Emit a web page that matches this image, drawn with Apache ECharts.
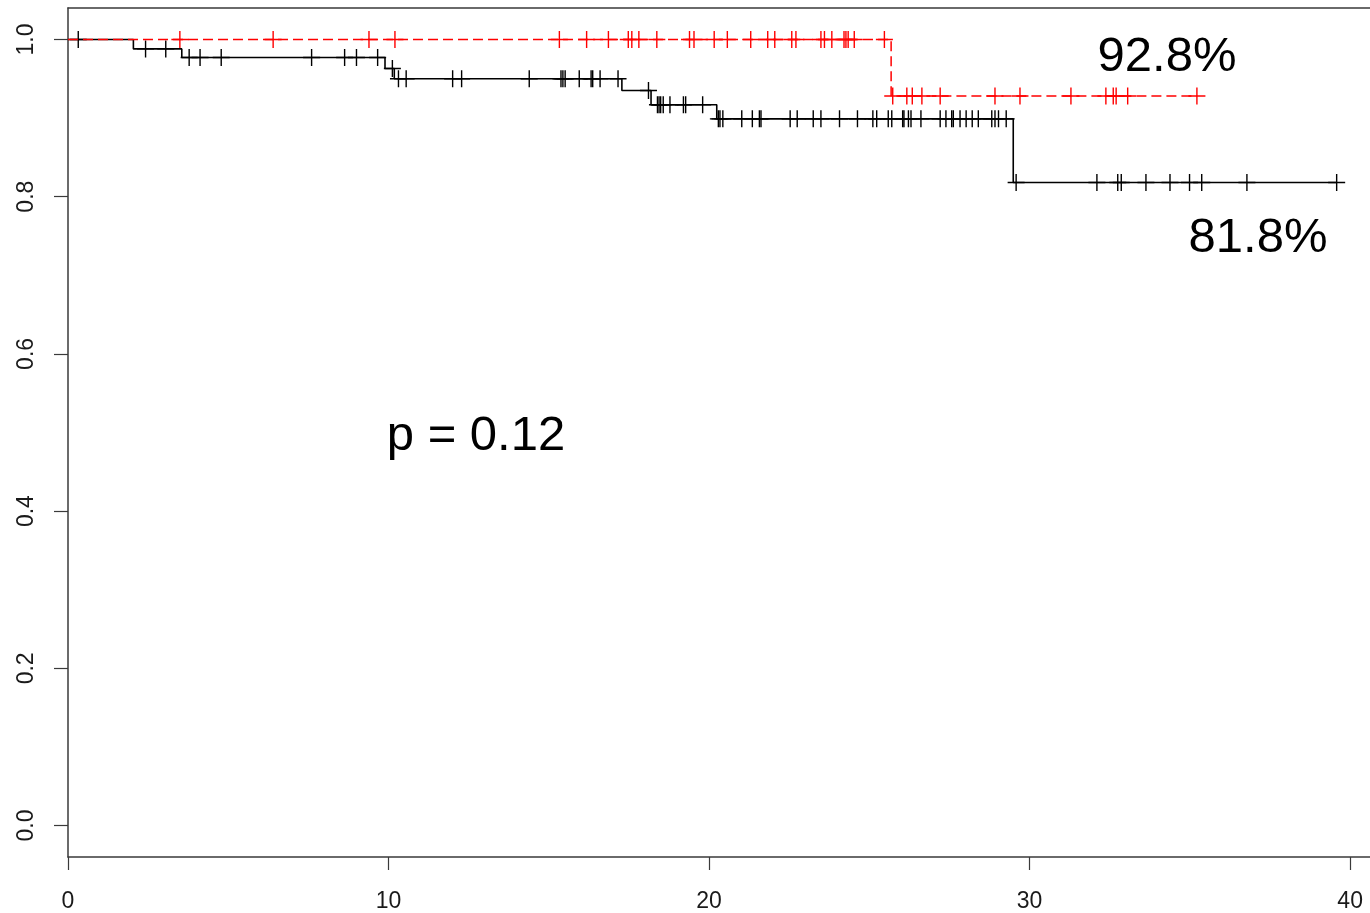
<!DOCTYPE html>
<html>
<head>
<meta charset="utf-8">
<script src="https://cdn.jsdelivr.net/npm/echarts@6/dist/echarts.min.js"></script>
<style>
  html, body { margin: 0; padding: 0; background: #ffffff; }
  #chart { width: 1370px; height: 913px; }
</style>
</head>
<body>
<div id="chart"></div>
<script>
// Kaplan–Meier survival curves: [time, survival] at each event time
const redSteps = [[0, 1], [25.68, 0.928], [35.22, 0.928]];
const blackSteps = [
  [0, 1], [2.04, 0.988], [3.55, 0.977], [9.89, 0.963], [10.18, 0.950],
  [17.28, 0.935], [18.19, 0.917], [20.24, 0.899], [29.49, 0.818], [39.58, 0.818]
];

// Censoring times for each group
const redCensored = [
  3.49, 6.40, 9.39, 10.20, 15.33, 16.18, 16.86, 17.48, 17.59, 17.81, 18.37,
  19.39, 19.53, 20.16, 20.57, 21.30, 21.83, 22.05, 22.58, 22.71, 23.49, 23.60,
  23.83, 24.21, 24.27, 24.34, 24.53, 25.47,
  25.73, 26.17, 26.34, 26.64, 27.21, 28.92, 29.70, 31.29, 32.38, 32.61, 32.70,
  33.06, 35.22
];
const blackCensored = [
  0.32, 2.42, 3.05, 3.78, 4.12, 4.78, 7.60, 8.63, 9.00, 9.66, 10.12,
  10.31, 10.55, 12.00, 12.28, 14.39, 15.38, 15.44, 15.51, 15.95, 16.32, 16.37,
  16.60, 17.16, 18.11,
  18.39, 18.44, 18.49, 18.57, 18.78, 19.20, 19.27, 19.80,
  20.29, 20.34, 20.43, 21.02, 21.35, 21.57, 21.62, 22.53, 22.75, 23.25, 23.49,
  24.07, 24.63, 25.11, 25.23, 25.59, 25.70, 26.04, 26.08, 26.22, 26.30, 26.61,
  27.21, 27.39, 27.57, 27.62, 27.83, 28.02, 28.21, 28.40, 28.82, 28.92, 29.03,
  29.27,
  29.58, 32.10, 32.75, 32.86, 33.63, 34.38, 34.99, 35.37, 36.78, 39.58
];

const xTicks = [0, 10, 20, 30, 40];
const yTicks = [0, 0.2, 0.4, 0.6, 0.8, 1.0];

const annotations = [
  { text: '92.8%', x: 1167, y: 57 },
  { text: '81.8%', x: 1258, y: 238 },
  { text: 'p = 0.12', x: 476, y: 436 }
];

// survival value of a step curve at time t
function survivalAt(steps, t) {
  let s = steps[0][1];
  for (const [time, val] of steps) {
    if (time <= t) s = val; else break;
  }
  return s;
}

const plusSymbol = 'path://M0,-10L0,10M-10,0L10,0';
const FONT = '"Liberation Sans", Arial, sans-serif';
const AXIS_COLOR = '#3a3a3a';
const X_MAX = 40.62;

const chart = echarts.init(document.getElementById('chart'), null, { renderer: 'canvas' });

chart.setOption({
  animation: false,
  backgroundColor: '#ffffff',
  grid: { left: 68, top: 8, right: 0, bottom: 56, show: false },
  xAxis: [
    {
      type: 'value', min: 0, max: X_MAX, position: 'bottom',
      splitLine: { show: false },
      axisLine: { show: true, onZero: false, lineStyle: { color: AXIS_COLOR, width: 1.5 } },
      axisTick: { show: true, inside: false, length: 13, customValues: xTicks,
                  lineStyle: { color: AXIS_COLOR, width: 1.2 } },
      axisLabel: { customValues: xTicks, margin: 33, fontSize: 23, fontFamily: FONT, color: '#1a1a1a',
                   formatter: v => String(v) }
    },
    {
      // upper edge of the plot frame
      type: 'value', min: 0, max: X_MAX, position: 'top',
      splitLine: { show: false },
      axisLine: { show: true, onZero: false, lineStyle: { color: AXIS_COLOR, width: 1.5 } },
      axisTick: { show: false }, axisLabel: { show: false }
    }
  ],
  yAxis: {
    type: 'value', min: -0.04, max: 1.04,
    splitLine: { show: false },
    axisLine: { show: true, onZero: false, lineStyle: { color: AXIS_COLOR, width: 1.5 } },
    axisTick: { show: true, inside: false, length: 14, customValues: yTicks,
                lineStyle: { color: AXIS_COLOR, width: 1.2 } },
    axisLabel: { customValues: yTicks, rotate: 90, margin: 30, fontSize: 23, fontFamily: FONT,
                 color: '#1a1a1a', formatter: v => v.toFixed(1) }
  },
  series: [
    {
      type: 'line', name: 'black', step: 'end', data: blackSteps,
      showSymbol: false, symbol: 'none', z: 2,
      lineStyle: { color: '#000000', width: 1.6 }
    },
    {
      type: 'scatter', name: 'black censored', z: 3,
      data: blackCensored.map(t => [t, survivalAt(blackSteps, t)]),
      symbol: plusSymbol, symbolSize: 17,
      itemStyle: { color: 'rgba(0,0,0,0)', borderColor: '#000000', borderWidth: 1.4, opacity: 1 }
    },
    {
      type: 'line', name: 'red', step: 'end', data: redSteps,
      showSymbol: false, symbol: 'none', z: 4,
      lineStyle: { color: '#ff0000', width: 1.5, type: [10, 5] }
    },
    {
      type: 'scatter', name: 'red censored', z: 5,
      data: redCensored.map(t => [t, survivalAt(redSteps, t)]),
      symbol: plusSymbol, symbolSize: 17,
      itemStyle: { color: 'rgba(0,0,0,0)', borderColor: '#ff0000', borderWidth: 1.4, opacity: 1 }
    }
  ],
  graphic: annotations.map(a => ({
    type: 'text', x: a.x, y: a.y, z: 10,
    style: { text: a.text, fontSize: 49, fontFamily: FONT, fill: '#000000',
             align: 'center', verticalAlign: 'middle' }
  }))
});
</script>
</body>
</html>
